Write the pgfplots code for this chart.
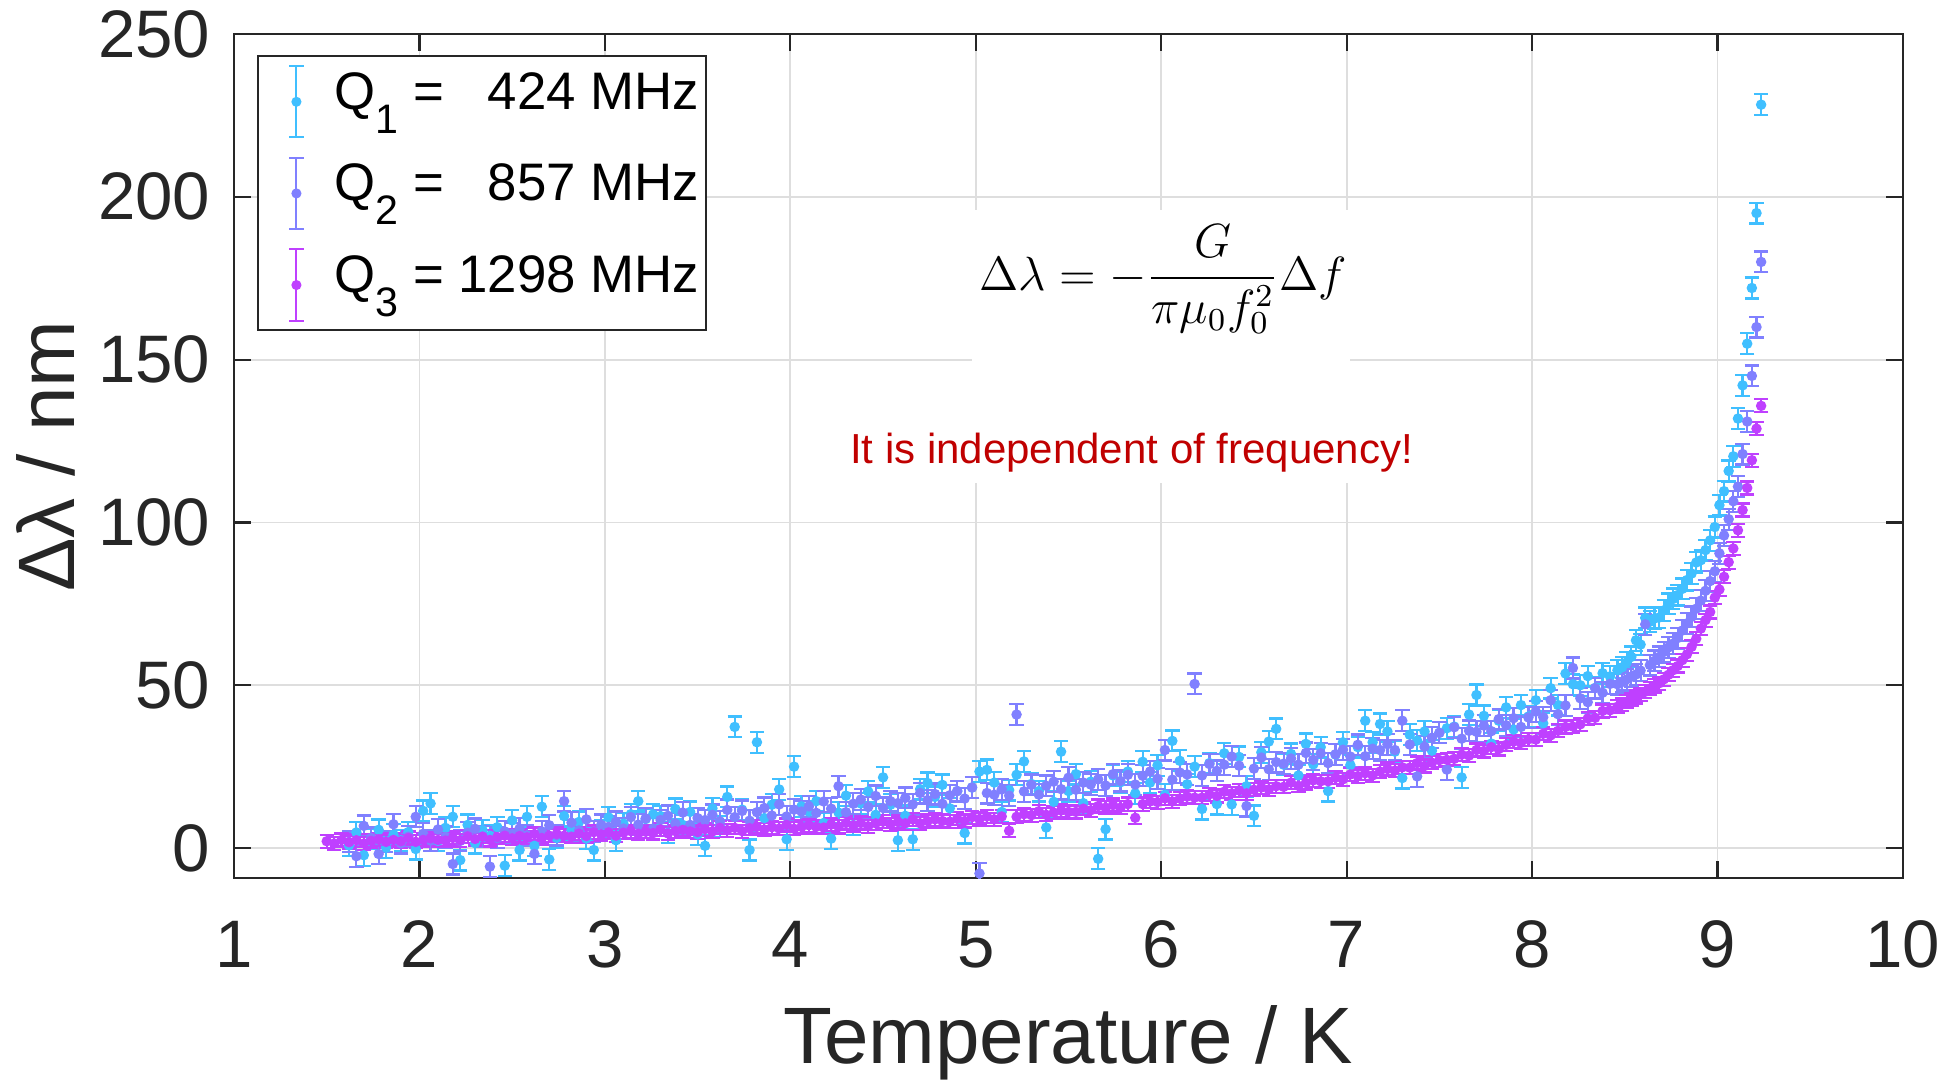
\documentclass[border=0pt]{standalone}
\usepackage{pgfplots}
\pgfplotsset{compat=1.18}
\usepackage{pgfplotstable}
\usepackage{fontspec}
\setmainfont{Liberation Sans}

\definecolor{qone}{RGB}{64,191,255}
\definecolor{qtwo}{RGB}{128,128,255}
\definecolor{qthree}{RGB}{191,64,255}
\definecolor{txtgray}{RGB}{38,38,38}
\definecolor{gridc}{RGB}{222,222,222}
\definecolor{noteRed}{RGB}{192,0,0}

\newcommand{\sub}[1]{\raisebox{-6pt}{\fontsize{10.3}{10}\selectfont #1}}

% T  Q1  Q2  Q3   (Delta lambda in nm)
\pgfplotstableread{
T q1 q2 q3
1.50 nan nan 2.1
1.54 nan nan 1.4
1.58 nan nan 2.5
1.62 0.8 1.9 1.8
1.66 4.8 -2.5 2.4
1.70 -2.2 6.8 1.4
1.74 2.8 3.1 2.2
1.78 5.6 -1.8 2.7
1.82 0.1 2.0 1.9
1.86 4.1 7.3 2.5
1.90 2.4 1.5 2.1
1.94 4.9 3.5 3.1
1.98 -0.3 9.6 1.9
2.02 11.4 4.4 2.5
2.06 13.7 2.3 3.0
2.10 2.2 5.7 2.5
2.14 6.2 3.4 2.3
2.18 9.6 -4.9 3.1
2.22 -3.7 2.2 2.4
2.26 7.1 4.7 3.6
2.30 1.5 5.9 2.8
2.34 5.5 3.5 3.5
2.38 3.8 -5.7 2.5
2.42 6.4 3.1 3.4
2.46 -5.4 5.1 3.8
2.50 8.5 4.4 3.0
2.54 -0.6 6.0 3.7
2.58 9.6 3.9 3.3
2.62 0.7 -1.8 4.3
2.66 12.7 5.1 3.1
2.70 -3.5 7.0 3.8
2.74 3.1 4.0 4.3
2.78 9.8 14.4 3.8
2.82 5.5 7.8 3.5
2.86 8.0 5.4 4.4
2.90 2.9 8.8 3.7
2.94 -0.6 5.1 4.9
2.98 5.3 7.1 4.2
3.02 9.4 6.5 4.8
3.06 2.4 8.0 3.8
3.10 7.5 6.0 4.7
3.14 10.4 9.5 5.2
3.18 14.4 7.2 4.4
3.22 8.9 9.1 5.0
3.26 10.3 6.0 4.6
3.30 9.8 8.6 5.7
3.34 4.7 9.9 4.5
3.38 12.0 7.5 5.2
3.42 7.1 10.9 5.6
3.46 11.1 7.1 5.1
3.50 4.2 9.2 4.9
3.54 0.7 8.6 5.8
3.58 12.2 10.2 5.1
3.62 6.7 8.2 6.2
3.66 15.7 11.7 5.5
3.70 37.2 9.5 6.2
3.74 11.8 11.4 5.2
3.78 -0.6 8.4 6.1
3.82 32.5 11.0 6.5
3.86 9.2 12.3 5.7
3.90 13.3 10.0 6.4
3.94 18.0 13.4 6.0
3.98 2.7 9.7 7.1
4.02 25.0 11.8 5.9
4.06 12.8 11.2 6.5
4.10 11.2 12.8 7.0
4.14 14.4 10.8 6.5
4.18 7.7 14.3 6.3
4.22 2.9 12.1 7.2
4.26 10.9 19.0 6.5
4.30 16.1 11.0 7.7
4.34 7.1 13.6 7.0
4.38 13.7 14.9 7.7
4.42 17.4 12.6 6.7
4.46 10.2 16.0 7.6
4.50 21.7 12.3 8.1
4.54 13.3 14.4 7.3
4.58 2.4 13.8 8.0
4.62 9.9 15.4 7.6
4.66 2.7 13.4 8.8
4.70 18.1 16.9 7.6
4.74 20.0 14.7 8.3
4.78 15.7 16.6 8.8
4.82 19.4 13.6 8.3
4.86 12.2 16.2 8.1
4.90 17.5 17.5 9.0
4.94 4.6 15.2 8.3
4.98 18.6 18.6 9.5
5.02 23.5 -7.8 8.9
5.06 24.0 16.9 9.7
5.10 20.1 16.4 8.8
5.14 11.1 18.0 9.7
5.18 17.8 16.1 5.3
5.22 22.5 41.0 9.6
5.26 26.6 17.4 10.4
5.30 19.7 19.4 10.1
5.34 17.5 16.4 11.3
5.38 6.3 19.1 10.2
5.42 14.2 20.4 10.9
5.46 29.6 18.1 11.5
5.50 17.5 21.6 11.1
5.54 22.7 17.9 11.1
5.58 13.8 20.1 12.1
5.62 20.4 19.5 11.6
5.66 -3.3 21.1 12.9
5.70 5.8 19.2 12.4
5.74 22.3 22.7 13.2
5.78 20.2 20.6 12.4
5.82 23.5 22.5 13.5
5.86 16.8 19.5 9.3
5.90 26.5 22.2 13.5
5.94 20.1 23.5 14.3
5.98 25.4 21.3 14.1
6.02 16.4 30.1 15.3
6.06 32.9 21.0 14.3
6.10 26.8 23.2 15.2
6.14 19.6 22.6 15.8
6.18 25.0 50.4 15.5
6.22 12.0 22.3 15.5
6.26 26.1 25.8 16.5
6.30 13.5 23.7 16.0
6.34 29.1 25.6 17.3
6.38 13.4 28.1 16.8
6.42 28.0 25.3 17.7
6.46 19.0 12.9 16.8
6.50 9.9 24.4 17.9
6.54 29.4 27.8 18.6
6.58 32.7 24.2 18.0
6.62 36.6 26.4 19.0
6.66 25.6 25.9 18.8
6.70 28.9 27.5 20.1
6.74 22.3 25.6 19.1
6.78 32.0 29.2 20.0
6.82 25.7 27.1 20.8
6.86 31.0 29.1 20.5
6.90 17.5 26.1 20.5
6.94 28.7 28.8 21.6
6.98 32.5 30.2 21.1
7.02 25.5 28.1 22.6
7.06 31.0 31.7 22.1
7.10 39.1 28.2 23.0
7.14 32.5 30.5 22.3
7.18 38.1 30.1 23.5
7.22 35.8 31.9 24.3
7.26 29.6 30.1 23.8
7.30 21.5 39.1 24.8
7.34 34.8 31.8 24.7
7.38 33.0 22.0 26.1
7.42 35.8 31.1 25.2
7.46 29.9 33.9 26.2
7.50 35.4 35.4 27.0
7.54 36.8 24.1 27.1
7.58 37.3 37.1 27.4
7.62 21.7 33.6 28.7
7.66 41.0 36.0 28.4
7.70 47.0 35.7 30.1
7.74 40.6 37.6 29.8
7.78 32.1 35.9 31.0
7.82 39.1 39.6 30.4
7.86 43.2 37.7 31.7
7.90 36.4 39.9 32.7
7.94 43.9 37.2 32.3
7.98 40.4 40.1 33.4
8.02 45.4 41.9 33.3
8.06 38.3 40.2 35.1
8.10 49.1 45.4 34.6
8.14 43.9 41.1 36.0
8.18 53.6 43.8 37.2
8.22 50.3 55.3 37.3
8.26 50.0 46.0 38.0
8.30 52.8 44.8 39.8
8.34 49.2 49.1 40.0
8.38 53.7 47.7 42.1
8.42 52.7 50.4 42.3
8.46 54.6 50.3 43.4
8.485 55.5 51.0 44.1
8.51 57.0 51.8 44.9
8.535 58.7 52.6 45.6
8.56 63.8 53.3 46.4
8.585 62.5 54.5 47.2
8.61 70.7 68.7 48.0
8.635 69.5 56.2 49.0
8.66 70.5 57.5 49.8
8.685 70.8 58.7 50.6
8.71 73.0 60.2 51.8
8.735 75.0 61.6 53.2
8.76 76.5 62.8 54.6
8.785 77.7 64.5 55.9
8.81 79.6 66.8 57.7
8.835 82.3 69.0 59.5
8.86 84.3 71.0 61.8
8.885 87.7 73.5 64.3
8.91 88.4 76.0 67.4
8.935 91.5 79.0 70.0
8.96 94.5 82.0 72.5
8.985 98.6 85.0 76.9
9.01 105.3 90.5 79.4
9.035 109.6 96.0 83.3
9.06 115.8 101.0 87.8
9.085 120.3 106.5 92.0
9.11 131.9 111.0 97.6
9.135 142.1 121.0 103.8
9.16 154.9 131.0 110.6
9.185 172.0 145.0 119.1
9.21 195.0 160.0 128.8
9.235 228.3 180.0 135.8
}\data

\pgfplotsset{
  ebarlegend/.style={legend image code/.code={
    \path[draw=none, fill=none] (-6.6pt,0pt) (7.5pt,0pt);
    \draw[line width=0.5pt] (0pt,-10.9pt) -- (0pt,6.9pt)
      (-1.8pt,-10.9pt) -- (1.8pt,-10.9pt) (-1.8pt,6.9pt) -- (1.8pt,6.9pt);
    \fill (0pt,-2pt) circle (1.0pt);}},
}

\begin{document}
\begin{tikzpicture}
\begin{axis}[
  scale only axis, width=417.25pt, height=211pt,
  xmin=1, xmax=10, ymin=-9.2, ymax=250,
  xtick={1,2,...,10}, ytick={0,50,...,250},
  grid=major, grid style={line width=0.45pt, draw=gridc},
  axis line style={line width=0.55pt, draw=txtgray},
  tick style={line width=0.55pt, draw=txtgray},
  tick align=inside, major tick length=4.2pt,
  tick label style={font=\fontsize{16.8}{20}\selectfont, text=txtgray, inner sep=0pt},
  /pgf/number format/assume math mode=true,
  xticklabel style={yshift=-10.5pt},
  yticklabel style={xshift=-5.75pt},
  xlabel={Temperature / K}, ylabel={Δλ / nm},
  label style={font=\fontsize{20}{24}\selectfont, text=txtgray, inner sep=0pt},
  xlabel style={at={(axis description cs:0.5,-0.2194)}, anchor=base},
  ylabel style={at={(axis description cs:-0.0953,0.5)}, anchor=base},
  legend style={at={(axis description cs:0.0138,0.9747)}, anchor=north west,
    draw=txtgray, line width=0.5pt, fill=white, row sep=4.4pt,
    font=\fontsize{13.2}{15}\selectfont, text=black},
  legend cell align=left,
  every axis plot/.append style={only marks, mark=*, mark size=1.1pt,
    error bars/y dir=both,
    error bars/error bar style={line width=0.55pt},
    error bars/error mark options={rotate=90, line width=0.55pt, mark size=1.8pt}},
]
\fill[white] (axis cs:4.98,112) rectangle (axis cs:7.02,196);

\addplot[qone, error bars/y fixed=3.2, ebarlegend]
  table[x=T, y=q1] {\data};
\addlegendentry{Q\sub{1} = \phantom{1}424 MHz\kern-3.2pt}
\addplot[qtwo, error bars/y fixed=3.2, ebarlegend]
  table[x=T, y=q2] {\data};
\addlegendentry{Q\sub{2} = \phantom{1}857 MHz\kern-3.2pt}
\addplot[qthree, error bars/y fixed=2.0, ebarlegend]
  table[x=T, y=q3] {\data};
\addlegendentry{Q\sub{3} = 1298 MHz\kern-3.2pt}

\node[anchor=base] at (axis cs:6.01,171.3)
  {\fontsize{11.6}{13}\selectfont $\displaystyle \Delta\lambda = -\frac{G}{\pi\mu_0 f_0^2}\Delta f$};
\node[anchor=base, text=noteRed, font=\fontsize{10.5}{12}\selectfont]
  at (axis cs:5.84,118) {It is independent of frequency!};
\end{axis}
\path (current axis.south west) ++(-58.5pt,-50pt) coordinate (bl);
\path (current axis.north east) ++(11.5pt,8.5pt) coordinate (tr);
\path (bl) rectangle (tr);
\end{tikzpicture}
\end{document}
